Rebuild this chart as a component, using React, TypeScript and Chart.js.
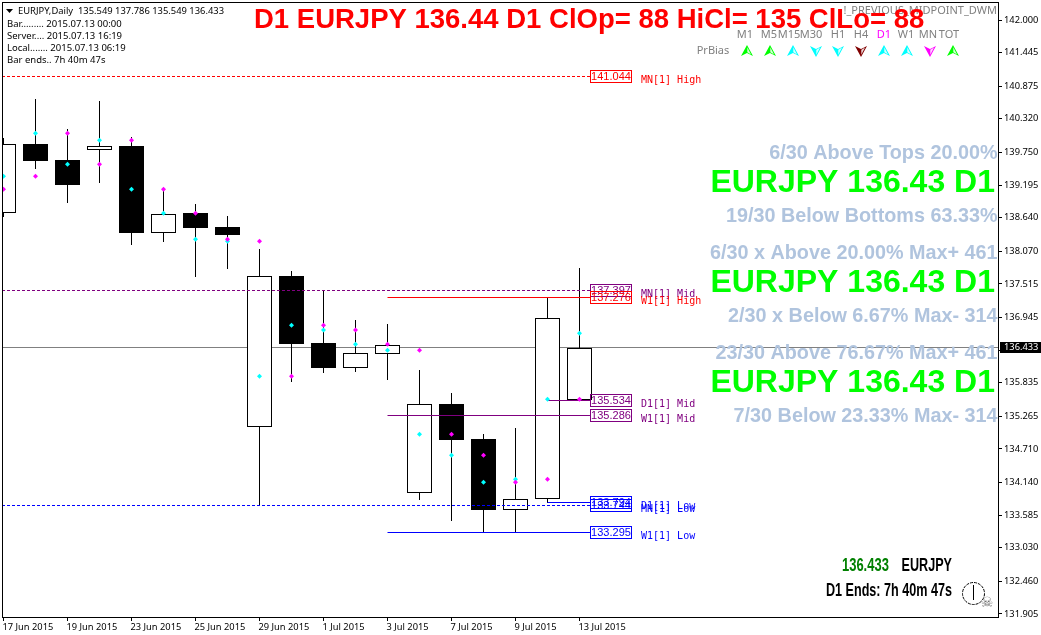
import React, { useEffect, useRef } from "react";
import { Chart, registerables } from "chart.js";

Chart.register(...registerables);

const dates = ["17 Jun 2015","18 Jun 2015","19 Jun 2015","22 Jun 2015","23 Jun 2015","24 Jun 2015","25 Jun 2015","26 Jun 2015","29 Jun 2015","30 Jun 2015","1 Jul 2015","2 Jul 2015","3 Jul 2015","6 Jul 2015","7 Jul 2015","8 Jul 2015","9 Jul 2015","10 Jul 2015","13 Jul 2015"];
const opens = [138.715,139.887,139.621,139.796,139.859,138.385,138.720,138.482,135.078,137.649,136.511,136.091,136.329,133.956,135.469,134.879,133.677,133.854,135.549];
const closes = [139.887,139.609,139.201,139.859,138.385,138.703,138.465,138.351,137.644,136.494,136.091,136.335,136.471,135.469,134.867,133.677,133.854,136.930,136.433];
const highs = [140.000,140.657,140.148,140.623,140.012,139.128,138.873,138.669,138.108,137.734,137.411,136.901,136.833,136.052,135.661,134.964,135.066,137.276,137.786];
const lows = [138.657,139.468,138.895,139.234,138.181,138.232,137.632,137.768,133.746,135.848,136.001,136.018,135.882,133.842,133.490,133.295,133.295,133.794,135.549];
const cyanDots = [139.344,140.074,139.548,139.955,139.123,138.715,138.273,138.239,135.945,136.811,136.732,136.488,136.387,134.959,134.602,134.143,134.194,135.554,136.675];
const magentaDots = [139.123,139.344,140.074,139.548,139.955,139.123,138.715,138.273,138.239,135.945,136.811,136.732,136.488,136.387,134.959,134.602,134.143,134.194,135.554];
const yTicks = [142.000,141.445,140.875,140.320,139.750,139.195,138.640,138.070,137.515,136.945,136.390,135.835,135.265,134.710,134.140,133.585,133.030,132.460,131.905];
const bid = 136.433;

const levelNames = ["MN[1] High","MN[1] Mid","W1[1] High","D1[1] Mid","W1[1] Mid","MN[1] Low","D1[1] Low","W1[1] Low"];
const levelPrices = [141.044,137.397,137.276,135.534,135.286,133.744,133.794,133.295];
const levelColors = ["#ff0000","#800080","#ff0000","#800080","#800080","#0000ff","#0000ff","#0000ff"];
const levelFrom = [-1,-1,12,17,12,-1,17,12];
const levelDashed = [true,true,false,false,false,true,false,false];

const headerText = "EURJPY,Daily  135.549 137.786 135.549 136.433";
const infoLines = ["Bar......... 2015.07.13 00:00","Server.... 2015.07.13 16:19","Local....... 2015.07.13 06:19","Bar ends.. 7h 40m 47s"];
const titleText = "D1 EURJPY 136.44 D1 ClOp= 88 HiCl= 135 ClLo= 88";
const indicatorName = "!_PREVIOUS_MIDPOINT_DWM";
const frames = ["M1","M5","M15","M30","H1","H4","D1","W1","MN","TOT"];
const biasUp = [true,true,true,false,false,false,true,true,false,true];
const biasColors = ["#00ff00","#00ff00","#00ffff","#00ffff","#00ffff","#800000","#00ffff","#00ffff","#ff00ff","#00ff00"];
const statsLines = ["6/30 Above Tops 20.00%","EURJPY 136.43 D1","19/30 Below Bottoms 63.33%","6/30 x Above 20.00% Max+ 461","EURJPY 136.43 D1","2/30 x Below 6.67% Max- 314","23/30 Above 76.67% Max+ 461","EURJPY 136.43 D1","7/30 Below 23.33% Max- 314"];

const X_MIN = -1.5 / 32;
const X_MAX = X_MIN + 996 / 32;
const LEVEL_END = 18.328;

const sans = '"Liberation Sans", Arial, sans-serif';
const ui = '"Noto Sans", "Liberation Sans", sans-serif';
const mono = '"DejaVu Sans Mono", monospace';

const snapBars = {
  id: "snapBars",
  afterDatasetsUpdate(chart: any) {
    chart.data.datasets.forEach((d: any, i: number) => {
      if (d.type !== "bar") return;
      chart.getDatasetMeta(i).data.forEach((el: any) => {
        el.y = Math.round(el.y);
        el.base = Math.round(el.base);
      });
    });
  },
  beforeDatasetDraw(chart: any, args: any) {
    const d = chart.data.datasets[args.index];
    if (d.type !== "line") return;
    const y = chart.scales.y.getPixelForValue(d.data[0].y);
    chart.ctx.save();
    chart.ctx.translate(0, Math.floor(y) + 0.5 - y);
  },
  afterDatasetDraw(chart: any, args: any) {
    const d = chart.data.datasets[args.index];
    if (d.type === "line") chart.ctx.restore();
  },
};

function text(ctx: any, s: string, x: number, y: number, font: string, color: string, align = "left") {
  ctx.font = font;
  ctx.fillStyle = color;
  ctx.textAlign = align;
  ctx.textBaseline = "middle";
  ctx.fillText(s, x, y);
}

function narrow(ctx: any, s: string, x: number, y: number, sx: number, color: string, align = "left") {
  ctx.save();
  ctx.translate(x, y);
  ctx.scale(sx, 1);
  text(ctx, s, 0, 0, `bold 18px ${sans}`, color, align);
  ctx.restore();
}

function arrow(ctx: any, cx: number, cy: number, up: boolean, color: string) {
  const s = up ? 1 : -1;
  ctx.save();
  ctx.translate(cx, cy);
  ctx.scale(1, s);
  ctx.beginPath();
  ctx.moveTo(0, -6);
  ctx.lineTo(6, 5);
  ctx.lineTo(0, 2);
  ctx.lineTo(-6, 5);
  ctx.closePath();
  ctx.fillStyle = color;
  ctx.fill();
  ctx.beginPath();
  ctx.moveTo(0.3, -3.8);
  ctx.lineTo(4, 3.4);
  ctx.lineTo(0.3, 1.2);
  ctx.closePath();
  ctx.fillStyle = "#ffffff";
  ctx.globalAlpha = 0.85;
  ctx.fill();
  ctx.restore();
}

const overlay = {
  id: "overlay",
  afterDraw(chart: any) {
    const { ctx } = chart;
    const { x, y } = chart.scales;
    ctx.save();

    ctx.strokeStyle = "#000000";
    ctx.lineWidth = 1;
    ctx.strokeRect(2.5, 2.5, 996, 615);

    // level boxes and names
    levelNames.forEach((name, i) => {
      const py = Math.floor(y.getPixelForValue(levelPrices[i]));
      const bx = Math.round(x.getPixelForValue(LEVEL_END));
      ctx.strokeStyle = levelColors[i];
      ctx.lineWidth = 1;
      ctx.strokeRect(bx + 0.5, py - 5.5, 41, 12);
      text(ctx, levelPrices[i].toFixed(3), bx + 21, py + 1, `11px ${sans}`, levelColors[i], "center");
      text(ctx, name, bx + 51, py + 4, `10px ${mono}`, levelColors[i]);
    });

    // stats block
    const statsY = [153.5, 183, 216.5, 253.5, 283, 316.5, 353.5, 383, 416.5];
    statsLines.forEach((s, i) => {
      const big = s.startsWith("EURJPY");
      text(ctx, s, big ? 995 : 997.5, statsY[i], big ? `bold 32px ${sans}` : `bold 19.8px ${sans}`, big ? "#00ff00" : "#b0c4de", "right");
    });

    // header
    ctx.fillStyle = "#000000";
    ctx.beginPath();
    ctx.moveTo(6, 9);
    ctx.lineTo(13, 9);
    ctx.lineTo(9.5, 13);
    ctx.closePath();
    ctx.fill();
    text(ctx, headerText, 18, 11, `9.4px ${ui}`, "#000000");
    infoLines.forEach((s, i) => text(ctx, s, 7, 24 + i * 12.1, `9.5px ${ui}`, "#000000"));

    // indicator name, title
    text(ctx, indicatorName, 997, 11, `11px ${ui}`, "#808080", "right");
    text(ctx, titleText, 254, 20, `bold 27.5px ${sans}`, "#ff0000");

    // timeframe grid
    const labelX = [745, 769, 789, 811, 838, 861, 884, 906, 928, 949];
    const arrowX = [747, 770, 793, 816, 838, 861, 884, 907, 930, 953];
    frames.forEach((f, i) => {
      text(ctx, f, labelX[i], 35, `11px ${ui}`, f === "D1" ? "#ff00ff" : "#808080", "center");
      arrow(ctx, arrowX[i], 51, biasUp[i], biasColors[i]);
    });
    text(ctx, "PrBias", 713, 50.5, `11px ${ui}`, "#808080", "center");

    // bottom-right block
    narrow(ctx, "136.433", 842, 566, 0.72, "#008000");
    narrow(ctx, "EURJPY", 952, 566, 0.7, "#000000", "right");
    narrow(ctx, "D1 Ends: 7h 40m 47s", 952, 591, 0.7, "#000000", "right");

    // clock
    ctx.strokeStyle = "#000000";
    ctx.lineWidth = 1;
    ctx.setLineDash([3, 1]);
    ctx.beginPath();
    ctx.arc(973.5, 593.5, 11, 0, Math.PI * 2);
    ctx.stroke();
    ctx.setLineDash([]);
    ctx.beginPath();
    ctx.moveTo(973.5, 585);
    ctx.lineTo(973.5, 600);
    ctx.stroke();
    text(ctx, "\u2620", 987, 603, `14px "DejaVu Sans"`, "#707070", "center");

    // bid tag
    ctx.fillStyle = "#000000";
    ctx.fillRect(1000, 342, 41, 11);
    text(ctx, bid.toFixed(3), 1004, 347.5, `9.3px ${ui}`, "#ffffff");

    ctx.restore();
  },
};

export default function App() {
  const ref = useRef<HTMLCanvasElement>(null);
  useEffect(() => {
    const idx = dates.map((_, i) => i);
    const datasets: any[] = [
      {
        type: "line",
        data: [{ x: X_MIN, y: bid }, { x: X_MAX, y: bid }],
        borderColor: "#808080",
        borderWidth: 1,
        pointRadius: 0,
        order: 10,
      },
      {
        type: "bar",
        grouped: false,
        data: idx.map((i) => ({ x: i, y: [lows[i], highs[i]] })),
        backgroundColor: "#000000",
        borderWidth: 0,
        barThickness: 1,
        inflateAmount: 0,
        order: 9,
      },
      {
        type: "bar",
        grouped: false,
        data: idx.map((i) => ({ x: i, y: [opens[i], closes[i]] })),
        backgroundColor: idx.map((i) => (closes[i] >= opens[i] ? "#ffffff" : "#000000")),
        borderColor: "#000000",
        borderWidth: 1,
        borderSkipped: false,
        barThickness: 25,
        inflateAmount: 0,
        order: 8,
      },
      ...levelNames.map((_, i) => ({
        type: "line",
        data: [
          { x: levelFrom[i] < 0 ? X_MIN : levelFrom[i], y: levelPrices[i] },
          { x: LEVEL_END, y: levelPrices[i] },
        ],
        borderColor: levelColors[i],
        borderWidth: 1,
        borderDash: levelDashed[i] ? [3, 2] : [],
        pointRadius: 0,
        order: 5,
      })),
      {
        type: "scatter",
        data: idx.map((i) => ({ x: i, y: cyanDots[i] })),
        backgroundColor: "#00ffff",
        borderColor: "#00ffff",
        pointStyle: "rectRot",
        pointRadius: 2.5,
        borderWidth: 0,
        order: 3,
      },
      {
        type: "scatter",
        data: idx.map((i) => ({ x: i, y: magentaDots[i] })),
        backgroundColor: "#ff00ff",
        borderColor: "#ff00ff",
        pointStyle: "rectRot",
        pointRadius: 2.5,
        borderWidth: 0,
        order: 2,
      },
    ];
    const chart: any = new Chart(ref.current as HTMLCanvasElement, {
      type: "bar",
      data: { datasets },
      plugins: [snapBars, overlay],
      options: {
        responsive: false,
        animation: false,
        layout: { autoPadding: false, padding: { left: 2, top: 2, right: 0, bottom: 0 } },
        plugins: { legend: { display: false }, tooltip: { enabled: false }, title: { display: false } },
        scales: {
          x: {
            type: "linear",
            min: X_MIN,
            max: X_MAX,
            offset: false,
            afterBuildTicks: (s: any) => {
              s.ticks = idx.filter((i) => i % 2 === 0).map((v) => ({ value: v }));
            },
            afterFit: (s: any) => {
              s.height = 18;
              s.paddingLeft = 0;
              s.paddingRight = 0;
            },
            border: { display: false },
            grid: { display: true, offset: false, drawOnChartArea: false, drawTicks: true, tickLength: 4, tickColor: "#000000" },
            ticks: {
              autoSkip: false,
              maxRotation: 0,
              minRotation: 0,
              align: "start",
              labelOffset: -1,
              padding: 1,
              color: "#000000",
              font: { family: "Noto Sans", size: 9.3 },
              callback: (v: any) => dates[v],
            },
          },
          y: {
            type: "linear",
            position: "right",
            min: 142 - (617 - 20) / 58.84,
            max: 142 + 18 / 58.84,
            afterBuildTicks: (s: any) => {
              s.ticks = yTicks.map((v) => ({ value: v }));
            },
            afterFit: (s: any) => {
              s.width = 43;
              s.paddingTop = 0;
              s.paddingBottom = 0;
            },
            border: { display: false },
            grid: { display: true, drawOnChartArea: false, drawTicks: true, tickLength: 4, tickColor: "#000000" },
            ticks: {
              autoSkip: false,
              padding: 2,
              color: "#000000",
              font: { family: "Noto Sans", size: 9.3 },
              callback: (v: any) => Number(v).toFixed(3),
            },
          },
        },
      },
    } as any);
    return () => chart.destroy();
  }, []);
  return (
    <div style={{ position: "absolute", left: 0, top: 0, width: 1041, height: 635, overflow: "hidden", background: "#ffffff" }}>
      <canvas ref={ref} width={1041} height={635} style={{ display: "block" }} />
    </div>
  );
}
